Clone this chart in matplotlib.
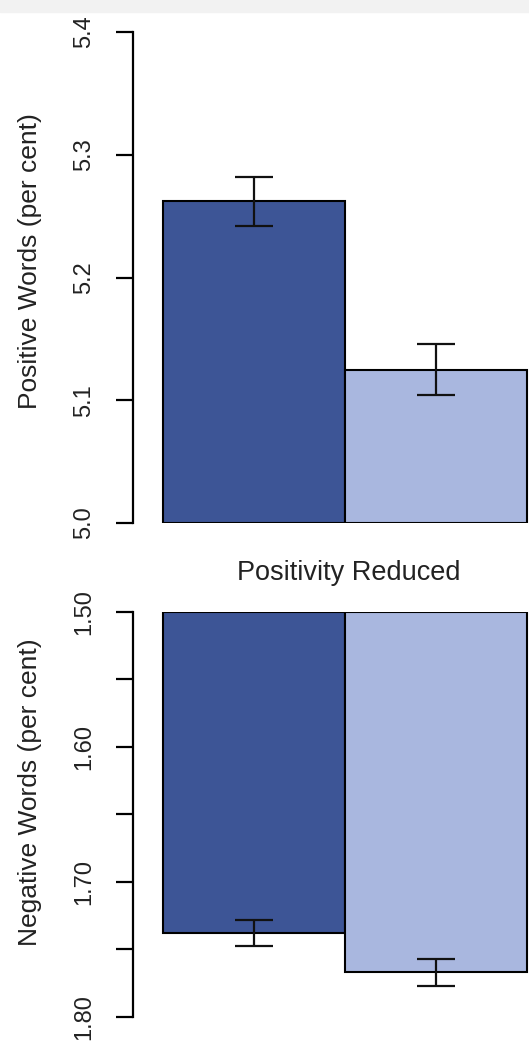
import numpy as np
import matplotlib
matplotlib.use("Agg")
import matplotlib.pyplot as plt
from matplotlib.patches import Rectangle

plt.rcParams['font.family'] = ['Liberation Sans', 'DejaVu Sans']

# data
groups = ['Control', 'Positivity Reduced']
bar_colors = ['#3d5596', '#a9b7df']
pos_means = [5.262, 5.125]
pos_err = [0.020, 0.021]
neg_means = [1.738, 1.767]
neg_err = [0.0095, 0.010]

pos_ticks = [5.0, 5.1, 5.2, 5.3, 5.4]
pos_ticklabels = ['5.0', '5.1', '5.2', '5.3', '5.4']
neg_ticks = [1.50, 1.55, 1.60, 1.65, 1.70, 1.75, 1.80]
neg_ticklabels = ['1.50', '', '1.60', '', '1.70', '', '1.80']

W, H = 529, 1044
fig = plt.figure(figsize=(W / 100, H / 100), dpi=100)

# light strip at the very top of the screenshot
fig.patches.append(Rectangle((0, 1 - 12 / H), 1, 12 / H, transform=fig.transFigure,
                             color='#f2f2f2', zorder=-1))

def px_axes(left, top, right, bottom):
    return fig.add_axes([left / W, 1 - bottom / H, (right - left) / W, (bottom - top) / H])

ax1 = px_axes(133, 32, 529, 523)
ax2 = px_axes(133, 612, 529, 1017)

x = np.arange(len(groups)) + 0.5
xmin = -30 / 182
xmax = (529 - 163) / 182

def style(ax, ticks, labels, ylabel, label_y):
    for s in ['top', 'right', 'bottom']:
        ax.spines[s].set_visible(False)
    ax.spines['left'].set_linewidth(1.6)
    ax.set_xticks([])
    ax.set_yticks(ticks)
    ax.set_yticklabels(labels, rotation=90, va='center')
    ax.tick_params(axis='y', direction='out', length=12, width=1.6, pad=15,
                   labelsize=17, labelcolor='#222222')
    ax.set_xlim(xmin, xmax)
    ax.set_ylabel(ylabel, fontsize=19, color='#222222')
    ax.yaxis.set_label_coords(-0.23, label_y)

# positive words panel
ax1.bar(x, np.array(pos_means) - 5.0, bottom=5.0, width=1.0, color=bar_colors,
        edgecolor='black', linewidth=1.5)
ax1.errorbar(x, pos_means, yerr=pos_err, fmt='none', ecolor='#111111',
             elinewidth=1.6, capsize=13.5, capthick=1.6)
ax1.set_ylim(5.0, 5.4)
style(ax1, pos_ticks, pos_ticklabels, 'Positive Words (per cent)', 0.534)

# negative words panel (inverted axis)
ax2.bar(x, np.array(neg_means) - 1.5, bottom=1.5, width=1.0, color=bar_colors,
        edgecolor='black', linewidth=1.5)
ax2.errorbar(x, neg_means, yerr=neg_err, fmt='none', ecolor='#111111',
             elinewidth=1.6, capsize=13.5, capthick=1.6)
ax2.set_ylim(1.80, 1.50)
style(ax2, neg_ticks, neg_ticklabels, 'Negative Words (per cent)', 0.556)

fig.text(349 / W, 1 - 573 / H, 'Positivity Reduced', ha='center', va='center',
         fontsize=19.5, color='#222222')

fig.savefig('out.png', dpi=100)
